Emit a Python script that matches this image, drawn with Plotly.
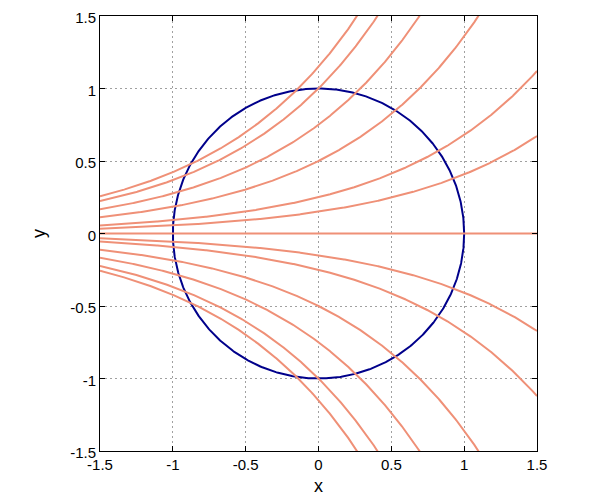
import numpy as np
import plotly.graph_objects as go

# Coefficients c of the curves y = c * exp(x)
coefs = [1.15, 1.0, 0.75, 0.5, 0.25, 0.15, 0.0, -0.15, -0.25, -0.5, -0.75, -1.0, -1.15]
tick_vals = [-1.5, -1, -0.5, 0, 0.5, 1, 1.5]
tick_text = ["-1.5", "-1", "-0.5", "0", "0.5", "1", "1.5"]
circle_radius = 1.0

xs = np.linspace(-1.5, 1.5, 601)
ts = np.linspace(0, 2 * np.pi, 721)

fig = go.Figure()
fig.add_trace(go.Scatter(x=circle_radius * np.cos(ts), y=circle_radius * np.sin(ts),
                         mode="lines", line=dict(color="#00008b", width=2),
                         showlegend=False, hoverinfo="skip"))
for c in coefs:
    fig.add_trace(go.Scatter(x=xs, y=c * np.exp(xs), mode="lines",
                             line=dict(color="#ef9077", width=2),
                             showlegend=False, hoverinfo="skip"))

axis_common = dict(range=[-1.5, 1.5], tickvals=tick_vals, ticktext=tick_text,
                   showline=True, linecolor="black", linewidth=1, mirror="ticks",
                   ticks="inside", ticklen=5, tickcolor="black", automargin=False,
                   ticklabeloverflow="allow",
                   showgrid=True, gridcolor="#a0a0a0", griddash="2px,3px", gridwidth=1,
                   zeroline=False, tickfont=dict(size=15, color="black"))

fig.update_layout(
    width=592, height=492,
    margin=dict(l=92, r=63, t=8, b=49),
    paper_bgcolor="white", plot_bgcolor="white",
    font=dict(family="Liberation Sans, Arial, sans-serif", size=15, color="black"),
    xaxis=dict(**axis_common, title=dict(text="x", standoff=7)),
    yaxis=dict(**axis_common, ticklabelshift=2, title=dict(text="y", standoff=19)),
)
fig.write_html("out.html")
